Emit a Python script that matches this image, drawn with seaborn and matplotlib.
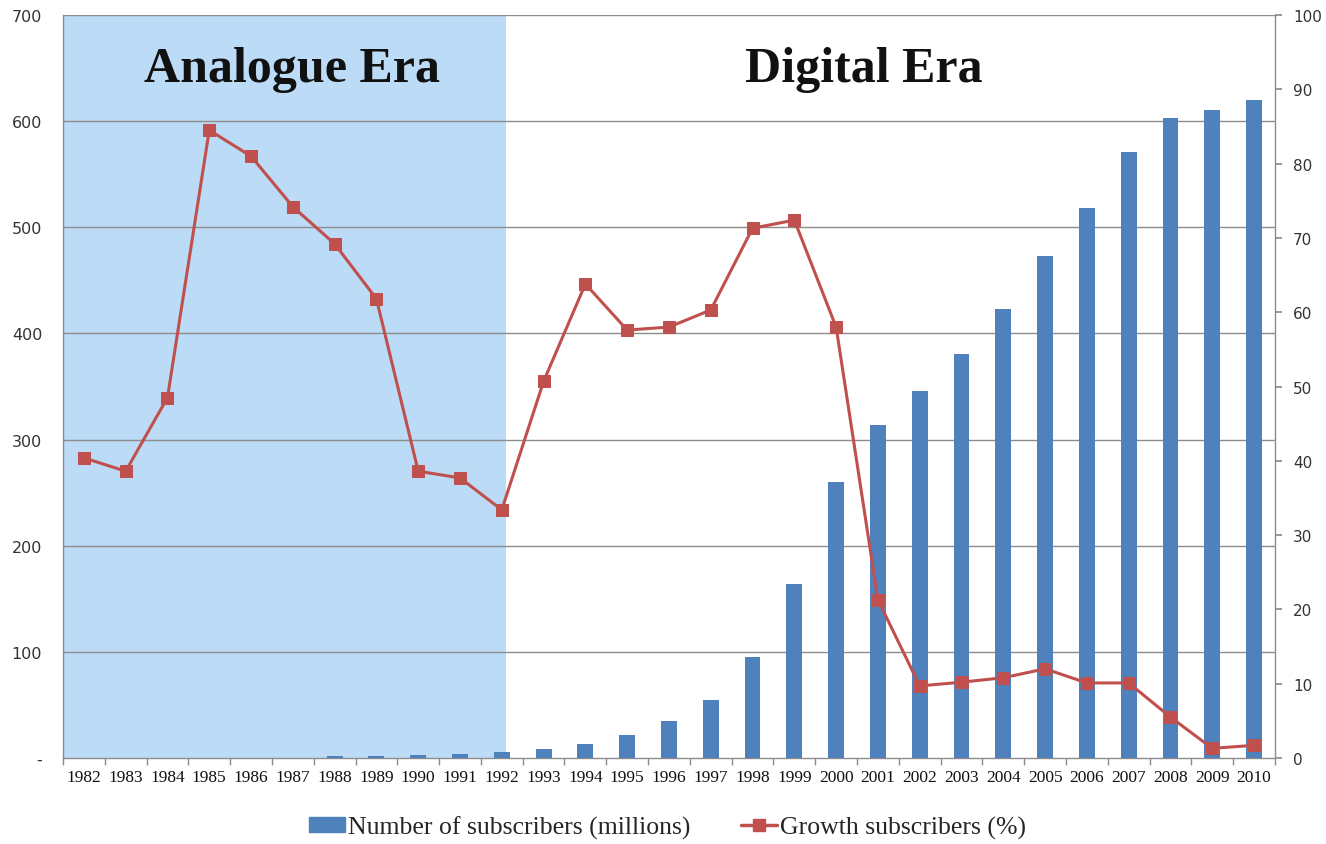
import numpy as np
import pandas as pd
import matplotlib
matplotlib.use("Agg")
import matplotlib.pyplot as plt
import seaborn as sns
from matplotlib.lines import Line2D
from matplotlib.patches import Patch

years = [str(y) for y in range(1982, 2011)]
subscribers = [0, 0, 0, 0, 0, 0, 1.5, 2, 3, 4, 5.5, 8, 13, 22, 35, 55, 95, 164,
               260, 314, 346, 381, 423, 473, 518, 571, 603, 611, 620]
growth = [40.4, 38.6, 48.5, 84.5, 81.0, 74.2, 69.2, 61.8, 38.6, 37.7, 33.4, 50.7,
          63.8, 57.6, 58.0, 60.3, 71.3, 72.4, 58.0, 21.3, 9.7, 10.2, 10.8, 12.0,
          10.1, 10.1, 5.5, 1.3, 1.7]
era_labels = ["Analogue Era", "Digital Era"]
left_ticks = [0, 100, 200, 300, 400, 500, 600, 700]
left_ticklabels = ["-", "100", "200", "300", "400", "500", "600", "700"]
right_ticks = list(range(0, 101, 10))
legend_labels = ["Number of subscribers (millions)", "Growth subscribers (%)"]

bar_color = "#4F81BD"
line_color = "#C0504D"
shade_color = "#BCDBF6"
grid_color = "#8C8C8C"
serif = "Liberation Serif"

sns.set_theme(style="white")
plt.rcParams["font.family"] = ["DejaVu Sans"]

df = pd.DataFrame({"year": years, "subs": subscribers, "growth": growth})

fig = plt.figure(figsize=(13.26, 8.45), dpi=100)
ax = fig.add_axes([0.0475, 0.1018, 0.914, 0.8792])

# analogue period shading
ax.axvspan(-0.5, 10.1, color=shade_color, zorder=0, lw=0)

sns.barplot(data=df, x="year", y="subs", color=bar_color, width=0.38,
            saturation=1, linewidth=0, ax=ax, zorder=3)
ax.set_xlim(-0.5, len(years) - 0.5)
ax.set_ylim(0, 700)
ax.set_yticks(left_ticks)
ax.set_yticklabels(left_ticklabels, fontsize=11.5, color="#333333")
ax.set_xlabel("")
ax.set_ylabel("")
for t in left_ticks[1:]:
    ax.axhline(t, color=grid_color, lw=1, zorder=1)

# tick marks between categories
ax.set_xticks(np.arange(len(years)))
ax.set_xticklabels(years, fontsize=12.5, family=serif, color="#111111")
ax.set_xticks(np.arange(len(years) + 1) - 0.5, minor=True)
ax.tick_params(axis="x", which="major", length=0, pad=8)
ax.tick_params(axis="x", which="minor", length=5, color=grid_color, direction="out", bottom=True)
ax.tick_params(axis="y", length=0, pad=15)

for side in ["left", "right", "bottom"]:
    ax.spines[side].set_color(grid_color)
    ax.spines[side].set_linewidth(1)
ax.spines["top"].set_visible(False)

ax2 = ax.twinx()
sns.lineplot(x=np.arange(len(years)), y=growth, color=line_color, lw=2.2,
             marker="s", markersize=8, markeredgecolor=line_color, ax=ax2, zorder=5)
ax2.set_ylim(0, 100)
ax2.set_yticks(right_ticks)
ax2.set_yticklabels([str(t) for t in right_ticks], fontsize=11, color="#333333")
ax2.tick_params(axis="y", length=5, color=grid_color, direction="out", right=True, pad=8)
ax2.set_ylabel("")
for side in ["left", "right", "bottom", "top"]:
    ax2.spines[side].set_visible(False)

ax.text(4.98, 649, era_labels[0], fontsize=36, family=serif, fontweight="bold",
        ha="center", va="center", color="#111111", zorder=6)
ax.text(18.66, 649, era_labels[1], fontsize=36, family=serif, fontweight="bold",
        ha="center", va="center", color="#111111", zorder=6)

handles = [Patch(facecolor=bar_color, edgecolor=bar_color),
           Line2D([0], [0], color=line_color, lw=2.5, marker="s", markersize=8)]
fig.legend(handles, legend_labels, loc="center", bbox_to_anchor=(0.5034, 0.02),
           ncol=2, frameon=False, prop={"family": serif, "size": 18.5},
           handlelength=1.4, handleheight=0.55, handletextpad=0.1, columnspacing=2.0)

fig.savefig("out.png", dpi=100)
